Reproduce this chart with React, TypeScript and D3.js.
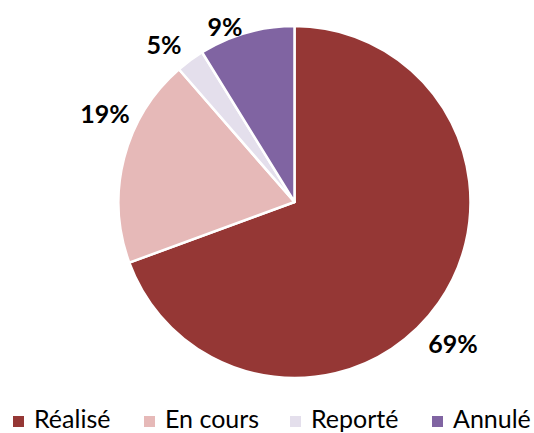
import React from "react";
import * as d3 from "d3";

const categories = ["Réalisé", "En cours", "Reporté", "Annulé"];
const values = [69.4, 19.2, 2.6, 8.8];
const pctLabels = ["69%", "19%", "5%", "9%"];
const colors = ["#953735", "#E6B9B8", "#E4DFEC", "#8064A2"];

const W = 534, H = 433;
const cx = 294.5, cy = 202, R = 176;
const labelPos: [number, number][] = [[453, 343], [105, 113], [164, 44], [225, 26]];
const legendX = [13, 144, 290, 432];

export default function App() {
  const pie = d3.pie<number>().sort(null).value((d) => d)(values);
  const arc = d3.arc<d3.PieArcDatum<number>>().innerRadius(0).outerRadius(R);
  return (
    <svg width={W} height={H} style={{ position: "absolute", left: 0, top: 0 }}>
      <g transform={`translate(${cx},${cy})`}>
        {pie.map((p, i) => (
          <path key={i} d={arc(p) || ""} fill={colors[i]} stroke="#fff" strokeWidth={2.5} strokeLinejoin="round" />
        ))}
      </g>
      {pctLabels.map((t, i) => (
        <text key={i} x={labelPos[i][0]} y={labelPos[i][1]} textAnchor="middle" dominantBaseline="central"
          fontFamily="Lato, 'Open Sans', sans-serif" fontWeight="bold" fontSize={25} fill="#000">{t}</text>
      ))}
      {categories.map((c, i) => (
        <g key={c}>
          <rect x={legendX[i]} y={416} width={11} height={11} fill={colors[i]} />
          <text x={legendX[i] + 21} y={428} fontFamily="Lato, 'Open Sans', sans-serif" fontSize={25} fill="#000">{c}</text>
        </g>
      ))}
    </svg>
  );
}
